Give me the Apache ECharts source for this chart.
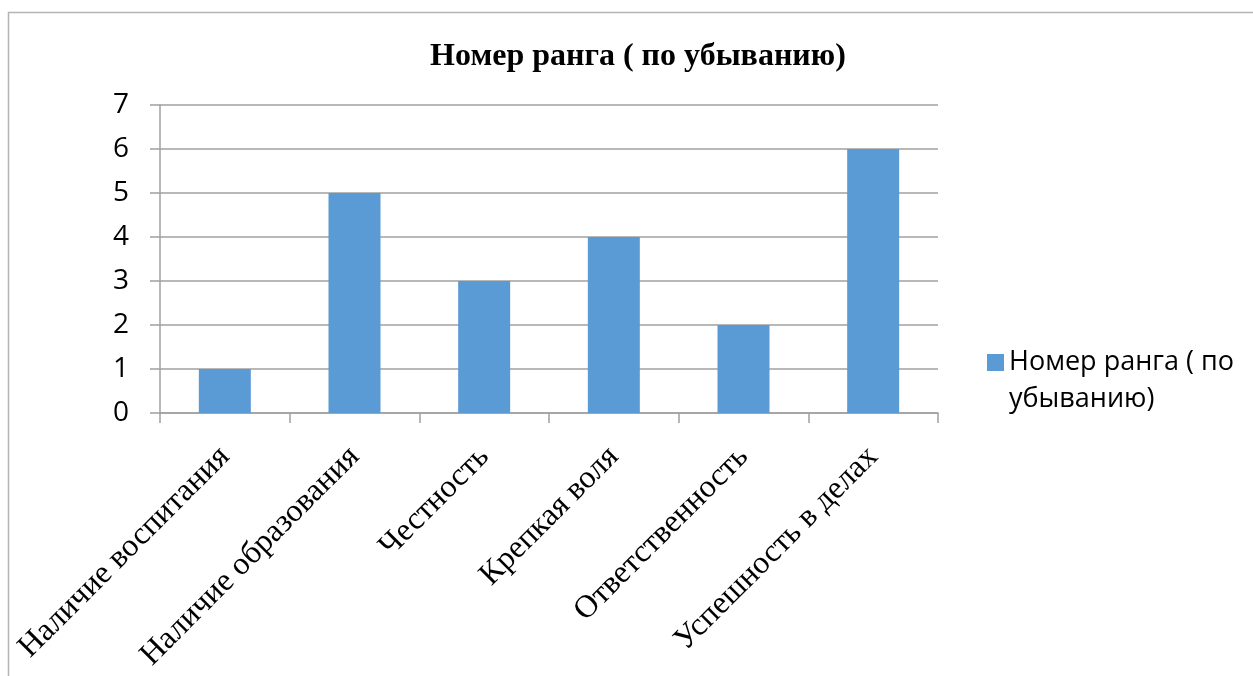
<!DOCTYPE html>
<html>
<head>
<meta charset="utf-8">
<script src="https://cdn.jsdelivr.net/npm/echarts@6/dist/echarts.min.js"></script>
<style>
html,body{margin:0;padding:0;background:#fff;}
#chart{width:1253px;height:676px;}
</style>
</head>
<body>
<div id="chart"></div>
<script>
const titleText = 'Номер ранга ( по убыванию)';
const categories = ['Наличие воспитания', 'Наличие образования', 'Честность', 'Крепкая воля', 'Ответственность', 'Успешность в делах'];
const seriesName = 'Номер ранга ( по убыванию)';
const legendLines = ['Номер ранга ( по', 'убыванию)'];
const values = [1, 5, 3, 4, 2, 6];
const yTicks = { min: 0, max: 7, interval: 1 };

const chart = echarts.init(document.getElementById('chart'));
chart.setOption({
  animation: false,
  backgroundColor: '#ffffff',
  graphic: [{
    type: 'rect',
    shape: { x: 8.5, y: 12.5, width: 1400, height: 800 },
    style: { fill: 'none', stroke: '#b4b4b4', lineWidth: 1.5 },
    silent: true
  }],
  title: {
    text: titleText,
    left: 633,
    top: 36,
    textAlign: 'center',
    textStyle: { fontFamily: 'Liberation Serif', fontWeight: 'bold', fontSize: 32, color: '#000' }
  },
  legend: {
    left: 982,
    top: 302,
    itemWidth: 17,
    itemHeight: 17,
    itemGap: 10,
    icon: 'rect',
    formatter: function () { return ' \n' + legendLines.join('\n'); },
    textStyle: { fontFamily: 'Open Sans', fontSize: 27, color: '#000', lineHeight: 37 }
  },
  grid: { left: 160, top: 105, right: 315, bottom: 263, containLabel: false },
  xAxis: {
    type: 'category',
    data: categories,
    boundaryGap: true,
    axisLine: { lineStyle: { color: '#a0a0a0', width: 1.5 } },
    axisTick: { show: true, length: 10, alignWithLabel: false, lineStyle: { color: '#a0a0a0', width: 1.5 } },
    axisLabel: {
      rotate: 45,
      margin: 39,
      interval: 0,
      fontFamily: 'Liberation Serif',
      fontSize: 32,
      color: '#000'
    }
  },
  yAxis: {
    type: 'value',
    min: yTicks.min,
    max: yTicks.max,
    interval: yTicks.interval,
    axisLine: { show: true, lineStyle: { color: '#a0a0a0', width: 1.5 } },
    axisTick: { show: true, length: 10, lineStyle: { color: '#a0a0a0', width: 1.5 } },
    splitLine: { show: true, lineStyle: { color: '#a0a0a0', width: 1.5 } },
    axisLabel: { margin: 31, fontFamily: 'Open Sans', fontSize: 28, color: '#000' }
  },
  series: [{
    name: seriesName,
    type: 'bar',
    data: values,
    barWidth: 52,
    itemStyle: { color: '#5B9BD5' }
  }]
});
</script>
</body>
</html>
